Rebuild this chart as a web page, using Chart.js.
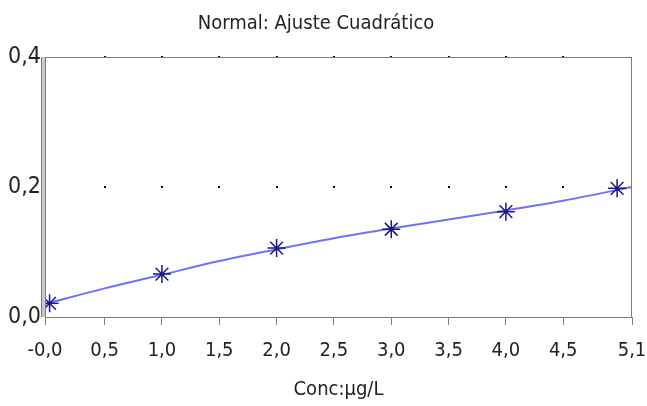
<!DOCTYPE html>
<html>
<head>
<meta charset="utf-8">
<script src="https://cdn.jsdelivr.net/npm/chart.js@4.4.1/dist/chart.umd.min.js"></script>
<style>
  html, body { margin: 0; padding: 0; background: #fff; }
  #wrap { width: 647px; height: 406px; }
</style>
</head>
<body>
<div id="wrap"><canvas id="c" width="647" height="406"></canvas></div>
<script>
// measured standards
const concX = [0.02, 1.0, 2.0, 3.0, 4.0, 4.97];
const signalY = [0.021, 0.066, 0.106, 0.135, 0.162, 0.198];
// fitted curve
const fitX = [-0.02, 0.5, 1.0, 1.5, 2.0, 2.5, 3.0, 3.5, 4.0, 4.5, 5.1];
const fitY = [0.020, 0.044, 0.065, 0.086, 0.104, 0.121, 0.136, 0.150, 0.164, 0.179, 0.200];
const xTicks = [-0.02, 0.5, 1.0, 1.5, 2.0, 2.5, 3.0, 3.5, 4.0, 4.5, 5.1];
const yTicks = [0, 0.2, 0.4];

const FONT = "'Liberation Sans Narrow', 'DejaVu Sans Condensed', 'Liberation Sans', sans-serif";
const fmt = v => v.toFixed(1).replace('.', ',');

const frame = {
  id: 'frame',
  afterDraw(chart) {
    const { ctx, chartArea: a, scales } = chart;
    ctx.save();
    // dotted grid
    ctx.fillStyle = '#000';
    for (const yv of [0.2, 0.4]) {
      const py = Math.round(scales.y.getPixelForValue(yv));
      for (const xv of xTicks.slice(1, -1)) {
        const px = Math.round(scales.x.getPixelForValue(xv));
        ctx.fillRect(px - 1, py - 1, 2, 2);
      }
    }
    // double left axis line
    ctx.fillStyle = '#c8c8c8';
    ctx.fillRect(a.left - 4, a.top, 5, a.bottom - a.top);
    ctx.fillStyle = '#7a7a7a';
    ctx.fillRect(a.left - 4, a.top, 1, a.bottom - a.top);
    ctx.fillRect(a.left, a.top, 1, a.bottom - a.top);
    // top & right borders
    ctx.fillRect(a.left, a.top, a.right - a.left, 1);
    ctx.fillRect(a.right - 1, a.top, 1, a.bottom - a.top);
    ctx.restore();
  }
};

new Chart(document.getElementById('c'), {
  type: 'scatter',
  data: {
    datasets: [
      {
        label: 'Ajuste',
        data: fitX.map((x, i) => ({ x, y: fitY[i] })),
        showLine: true,
        borderColor: '#7070ff',
        borderWidth: 2,
        pointRadius: 0,
        cubicInterpolationMode: 'monotone',
        order: 2
      },
      {
        label: 'Estándares',
        data: concX.map((x, i) => ({ x, y: signalY[i] })),
        pointStyle: 'star',
        pointRadius: 9,
        borderColor: '#1a1a80',
        borderWidth: 1.5,
        backgroundColor: '#1a1a80',
        order: 1
      }
    ]
  },
  plugins: [frame],
  options: {
    responsive: false,
    animation: false,
    layout: { padding: { left: 0, right: 15, top: 0, bottom: 0 } },
    plugins: {
      legend: { display: false },
      tooltip: { enabled: false },
      title: {
        display: true,
        text: 'Normal: Ajuste Cuadrático',
        color: '#222',
        font: { family: FONT, size: 20, weight: 'normal' },
        padding: { top: 12, bottom: 21 }
      }
    },
    scales: {
      x: {
        type: 'linear',
        min: -0.02,
        max: 5.1,
        afterBuildTicks: s => { s.ticks = xTicks.map(v => ({ value: v })); },
        afterFit: s => { s.height = 89; s.paddingLeft = 0; s.paddingRight = 0; },
        ticks: {
          color: '#222',
          font: { family: FONT, size: 20 },
          padding: 14,
          maxRotation: 0,
          autoSkip: false,
          callback: v => fmt(v)
        },
        grid: { drawOnChartArea: false, drawTicks: true, tickLength: 8, color: '#808080' },
        border: { color: '#808080', width: 1 },
        title: {
          display: true,
          text: 'Conc:µg/L',
          color: '#222',
          font: { family: FONT, size: 20 },
          padding: { top: 6 }
        }
      },
      y: {
        min: 0,
        max: 0.4,
        afterBuildTicks: s => { s.ticks = yTicks.map(v => ({ value: v })); },
        afterFit: s => { s.width = 45; },
        ticks: {
          color: '#222',
          font: { family: FONT, size: 23 },
          padding: 4,
          callback: v => fmt(v)
        },
        grid: { display: false, drawTicks: false },
        border: { display: false }
      }
    }
  }
});
</script>
</body>
</html>
